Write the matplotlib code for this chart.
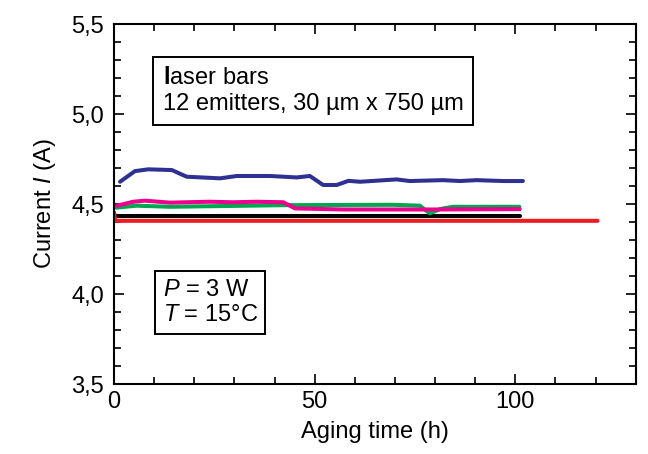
import matplotlib
matplotlib.use("Agg")
import matplotlib.pyplot as plt
from matplotlib.ticker import MultipleLocator, FuncFormatter

plt.rcParams['font.family'] = ['Liberation Sans', 'DejaVu Sans']
plt.rcParams['mathtext.fontset'] = 'custom'
plt.rcParams['mathtext.rm'] = 'Liberation Sans'
plt.rcParams['mathtext.it'] = 'Liberation Sans:italic'
plt.rcParams['mathtext.bf'] = 'Liberation Sans:bold'

# Aging data: operating current (A) vs. aging time (h) for five laser bars
blue_t = [1.5, 5.2, 8.5, 14.4, 18.1, 26.4, 30.6, 38.9, 45.5, 48.8, 52.1, 55.5,
          58.4, 61.3, 70.4, 73.7, 82.0, 86.2, 90.3, 97.0, 101.9]
blue_i = [4.624, 4.683, 4.693, 4.689, 4.652, 4.643, 4.656, 4.656, 4.648, 4.656,
          4.606, 4.606, 4.629, 4.624, 4.637, 4.628, 4.633, 4.628, 4.633, 4.628, 4.628]

green_t = [0.5, 5.6, 13.9, 23.9, 43.0, 69.5, 76.2, 78.7, 81.2, 84.4, 101.0]
green_i = [4.480, 4.491, 4.485, 4.488, 4.494, 4.496, 4.491, 4.448, 4.472, 4.485, 4.485]

pink_t = [0.7, 4.8, 7.7, 13.9, 23.9, 29.7, 35.5, 42.2, 45.1, 57.1, 80.0, 101.1]
pink_i = [4.491, 4.513, 4.519, 4.508, 4.513, 4.510, 4.513, 4.510, 4.476, 4.470,
          4.470, 4.472]

black_t = [0.5, 101.1]
black_i = [4.435, 4.435]

red_t = [0.0, 0.3, 30.0, 60.0, 90.0, 120.5]
red_i = [4.455, 4.407, 4.407, 4.407, 4.407, 4.407]

FS = 17

fig = plt.figure(figsize=(6.48, 4.54), dpi=100)
ax = fig.add_axes([0.176, 0.154, 0.805, 0.793])

lw = 2.9
ax.plot(black_t, black_i, color='#000000', lw=lw, solid_capstyle='round')
ax.plot(green_t, green_i, color='#00a651', lw=lw, solid_capstyle='round')
ax.plot(pink_t, pink_i, color='#ec008c', lw=lw, solid_capstyle='round')
ax.plot(red_t, red_i, color='#ed1c24', lw=lw, solid_capstyle='round')
ax.plot(blue_t, blue_i, color='#2e3192', lw=lw, solid_capstyle='round')

ax.set_xlim(0, 130)
ax.set_ylim(3.5, 5.5)
ax.xaxis.set_major_locator(MultipleLocator(50))
ax.xaxis.set_minor_locator(MultipleLocator(10))
ax.yaxis.set_major_locator(MultipleLocator(0.5))
ax.yaxis.set_minor_locator(MultipleLocator(0.1))
ax.yaxis.set_major_formatter(FuncFormatter(lambda v, p: f"{v:.1f}".replace('.', ',')))

ax.tick_params(which='both', direction='in', top=True, right=True, width=1.2,
               labelsize=FS, colors='black')
ax.tick_params(which='major', length=7.5)
ax.tick_params(which='minor', length=4.8)
ax.tick_params(axis='y', which='major', pad=7)
ax.tick_params(axis='x', which='major', pad=5)
for s in ax.spines.values():
    s.set_linewidth(1.5)

ax.set_xlabel('Aging time (h)', fontsize=FS, labelpad=6)
ax.set_ylabel('Current $I$ (A)', fontsize=FS, labelpad=10)

ax.text(0.093, 0.880, '$\\mathbf{l}$aser bars\n12 emitters, 30 µm x 750 µm',
        transform=ax.transAxes, fontsize=FS, va='top', ha='left',
        linespacing=1.2,
        bbox=dict(boxstyle='square,pad=0.42', facecolor='white',
                  edgecolor='black', linewidth=1.4))

ax.text(0.093, 0.292, '$P$ = 3 W\n$T$ = 15°C',
        transform=ax.transAxes, fontsize=FS, va='top', ha='left',
        linespacing=1.2,
        bbox=dict(boxstyle='square,pad=0.32', facecolor='white',
                  edgecolor='black', linewidth=1.4))

fig.savefig('out.png', dpi=100)
